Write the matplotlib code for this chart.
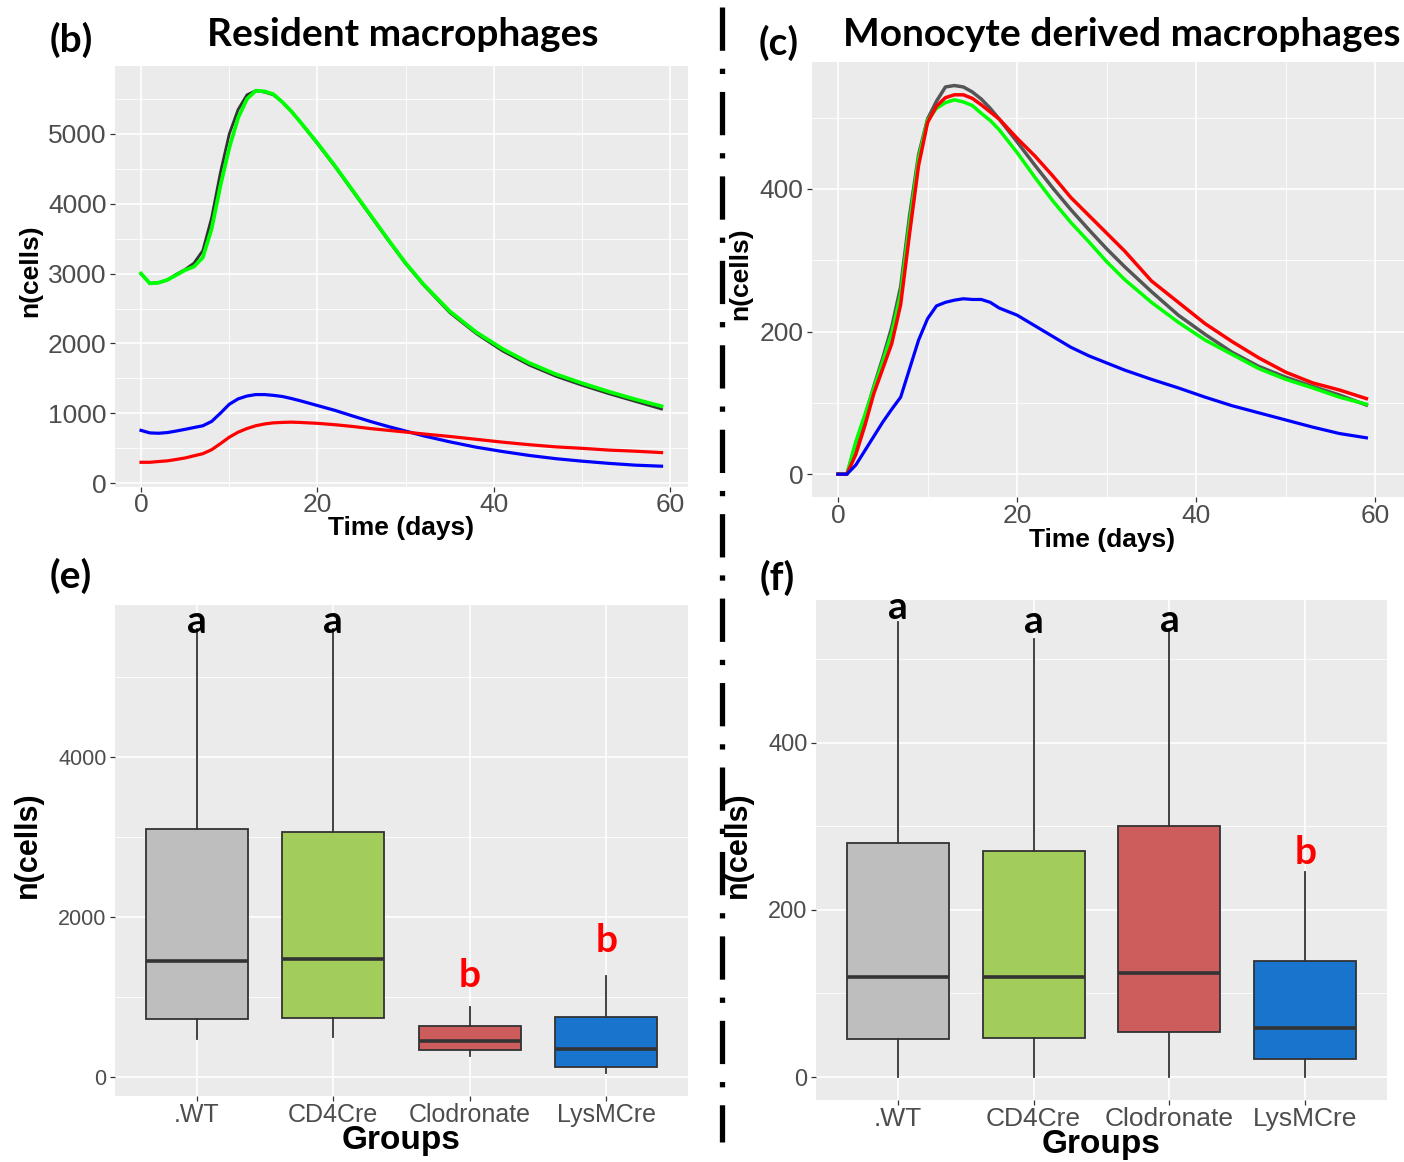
import matplotlib
matplotlib.use("Agg")
import matplotlib.pyplot as plt
from matplotlib.lines import Line2D

W, H = 1404, 1162

# ---- simulated time courses (days) ----
days = [0, 1, 2, 3, 4, 5, 6, 7, 8, 9, 10, 11, 12, 13, 14, 15, 16, 17, 18,
        20, 22, 24, 26, 28, 30, 32, 35, 38, 41, 44, 47, 50, 53, 56, 59]

# (b) resident macrophages
res_wt = [3000, 2860, 2870, 2910, 2990, 3060, 3150, 3330, 3800, 4450, 5000, 5350,
          5560, 5620, 5600, 5560, 5460, 5330, 5180, 4860, 4530, 4180, 3830, 3480,
          3140, 2840, 2440, 2140, 1890, 1690, 1530, 1400, 1280, 1170, 1060]
res_cd4 = [3000, 2860, 2870, 2910, 2980, 3050, 3100, 3230, 3640, 4260, 4800, 5230,
           5500, 5620, 5610, 5570, 5460, 5330, 5180, 4870, 4540, 4190, 3840, 3490,
           3150, 2850, 2460, 2160, 1920, 1720, 1560, 1430, 1310, 1200, 1100]
res_clod = [297, 297, 308, 318, 338, 359, 390, 420, 477, 564, 656, 728, 780, 820,
            846, 862, 868, 872, 868, 855, 835, 810, 780, 755, 730, 703, 667, 626,
            585, 549, 518, 497, 472, 456, 436]
res_lys = [754, 718, 713, 723, 745, 769, 795, 820, 882, 1000, 1128, 1205, 1246,
           1267, 1267, 1256, 1240, 1212, 1180, 1110, 1040, 960, 882, 810, 744,
           677, 590, 513, 451, 395, 349, 313, 282, 256, 241]

# (c) monocyte derived macrophages
mo_wt = [0, 0, 43, 81, 123, 163, 206, 263, 363, 448, 498, 523, 543, 545, 543, 536,
         526, 513, 498, 466, 433, 401, 371, 343, 316, 291, 256, 223, 196, 171, 151,
         136, 123, 111, 97]
mo_cd4 = [0, 0, 46, 83, 121, 158, 198, 253, 353, 443, 496, 513, 521, 525, 522, 517,
          506, 496, 483, 451, 416, 383, 353, 326, 298, 273, 241, 213, 188, 168, 148,
          133, 121, 108, 98]
mo_clod = [0, 0, 28, 68, 113, 148, 183, 238, 338, 433, 493, 516, 528, 532, 532, 527,
           518, 508, 498, 471, 446, 418, 388, 363, 338, 313, 271, 241, 211, 186, 163,
           143, 128, 118, 106]
mo_lys = [0, 0, 13, 33, 53, 73, 91, 108, 148, 188, 218, 236, 241, 244, 246, 245,
          245, 241, 233, 223, 208, 193, 178, 166, 156, 146, 133, 121, 108, 96, 86,
          76, 66, 57, 51]

# ---- box plot summaries ----
groups = [".WT", "CD4Cre", "Clodronate", "LysMCre"]
box_colors = ["#BEBEBE", "#A2CD5A", "#CD5C5C", "#1874CD"]

# (e) resident: low whisker, q1, median, q3, high whisker
e_lo = [480, 504, 264, 48]
e_q1 = [720, 744, 336, 130]
e_med = [1450, 1479, 446, 350]
e_q3 = [3097, 3063, 638, 754]
e_hi = [5600, 5600, 874, 1263]
e_letters = ["a", "a", "b", "b"]
e_letter_y = [5690, 5690, 1275, 1712]

# (f) monocyte derived
f_lo = [0, 0, 0, 0]
f_q1 = [46, 47, 54, 22]
f_med = [120, 120, 124, 59]
f_q3 = [280, 271, 300, 139]
f_hi = [545, 524, 536, 246]
f_letters = ["a", "a", "a", "b"]
f_letter_y = [562, 545, 547, 269]

letter_colors = {"a": "black", "b": "#FF0000"}

TICK_FONT = "Liberation Sans"
TITLE_FONT = "Lato"


def px_ax(fig, left, top, right, bottom):
    return fig.add_axes([left / W, 1 - bottom / H, (right - left) / W, (bottom - top) / H])


def style(ax, xt, xminor, yt, yminor, xsize, ysize, xpad=2.5):
    ax.set_facecolor("#EBEBEB")
    for s in ax.spines.values():
        s.set_visible(False)
    ax.set_xticks(xt)
    ax.set_yticks(yt)
    ax.set_xticks(xminor, minor=True)
    ax.set_yticks(yminor, minor=True)
    ax.grid(True, which="major", color="white", lw=1.2)
    ax.grid(True, which="minor", color="white", lw=0.6)
    ax.set_axisbelow(True)
    ax.tick_params(which="major", length=3.6, width=0.9, color="#333333",
                   labelcolor="#4D4D4D", pad=2.5)
    ax.tick_params(which="minor", length=0)
    ax.tick_params(axis="x", labelsize=xsize, pad=xpad)
    ax.tick_params(axis="y", labelsize=ysize)
    for lab in ax.get_xticklabels() + ax.get_yticklabels():
        lab.set_family(TICK_FONT)


def ftext(fig, x, y, s, **kw):
    fig.text(x / W, 1 - y / H, s, **kw)


fig = plt.figure(figsize=(W / 100, H / 100), dpi=100)

# ---- (b) ----
ax = px_ax(fig, 115, 66, 688, 487)
ax.plot(days, res_wt, color="#333333", lw=2.0)
ax.plot(days, res_cd4, color="#00FF00", lw=2.7)
ax.plot(days, res_lys, color="#0000FF", lw=2.3)
ax.plot(days, res_clod, color="#FF0000", lw=2.3)
ax.set_xlim(-2.95, 62.0)
ax.set_ylim(-57, 5974)
style(ax, [0, 20, 40, 60], [10, 30, 50], [0, 1000, 2000, 3000, 4000, 5000],
      [500, 1500, 2500, 3500, 4500, 5500], 19, 19, xpad=0.5)

# ---- (c) ----
ax = px_ax(fig, 812, 62, 1404, 497)
ax.plot(days, mo_wt, color="#555555", lw=2.5)
ax.plot(days, mo_cd4, color="#00FF00", lw=2.5)
ax.plot(days, mo_clod, color="#FF0000", lw=2.5)
ax.plot(days, mo_lys, color="#0000FF", lw=2.3)
ax.set_xlim(-2.9, 63.2)
ax.set_ylim(-32, 578)
style(ax, [0, 20, 40, 60], [10, 30, 50], [0, 200, 400], [100, 300, 500], 19, 19,
      xpad=1.5)


def boxes(ax, lo, q1, med, q3, hi):
    stats = []
    for i in range(len(groups)):
        stats.append(dict(whislo=lo[i], q1=q1[i], med=med[i], q3=q3[i],
                          whishi=hi[i], fliers=[], label=groups[i]))
    bp = ax.bxp(stats, positions=[1, 2, 3, 4], widths=0.75, patch_artist=True,
                showcaps=False, showfliers=False,
                boxprops=dict(edgecolor="#333333", lw=1.3),
                whiskerprops=dict(color="#333333", lw=1.3),
                medianprops=dict(color="#333333", lw=2.6))
    for patch, c in zip(bp["boxes"], box_colors):
        patch.set_facecolor(c)


# ---- (e) ----
ax = px_ax(fig, 115, 605, 688, 1096)
boxes(ax, e_lo, e_q1, e_med, e_q3, e_hi)
for i, (l, y) in enumerate(zip(e_letters, e_letter_y)):
    ax.text(i + 1, y, l, ha="center", va="center", fontsize=28, fontweight="bold",
            family=TITLE_FONT, color=letter_colors[l])
ax.set_xlim(0.4, 4.6)
ax.set_ylim(-237, 5900)
style(ax, [1, 2, 3, 4], [], [0, 2000, 4000], [1000, 3000, 5000], 18, 15.5, xpad=1.5)
ax.set_xticklabels(groups, family=TICK_FONT)

# ---- (f) ----
ax = px_ax(fig, 816, 600, 1387, 1100)
boxes(ax, f_lo, f_q1, f_med, f_q3, f_hi)
for i, (l, y) in enumerate(zip(f_letters, f_letter_y)):
    ax.text(i + 1, y, l, ha="center", va="center", fontsize=28, fontweight="bold",
            family=TITLE_FONT, color=letter_colors[l])
ax.set_xlim(0.4, 4.6)
ax.set_ylim(-27.5, 571)
style(ax, [1, 2, 3, 4], [], [0, 200, 400], [100, 300, 500], 19, 17, xpad=1.5)
ax.set_xticklabels(groups, family=TICK_FONT)

# ---- titles and labels ----
bold_title = dict(fontsize=28, fontweight="bold", family=TITLE_FONT, va="center")
ftext(fig, 71, 40, "(b)", ha="center", **bold_title)
ftext(fig, 403, 35, "Resident macrophages", ha="center", **bold_title)
ftext(fig, 779, 43, "(c)", ha="center", **bold_title)
ftext(fig, 843, 35, "Monocyte derived macrophages", ha="left", **bold_title)
ftext(fig, 71, 576, "(e)", ha="center", **bold_title)
ftext(fig, 777, 578, "(f)", ha="center", **bold_title)

lab = dict(fontweight="bold", family=TICK_FONT, ha="center", va="center")
ftext(fig, 401, 528, "Time (days)", fontsize=19, **lab)
ftext(fig, 1102, 540, "Time (days)", fontsize=19, **lab)
ftext(fig, 401, 1141, "Groups", fontsize=24, **lab)
ftext(fig, 1101, 1145, "Groups", fontsize=24, **lab)
ftext(fig, 30, 271, "n(cells)", fontsize=19, rotation=90, **lab)
ftext(fig, 740, 274, "n(cells)", fontsize=19, rotation=90, **lab)
ftext(fig, 28, 845, "n(cells)", fontsize=22, rotation=90, **lab)
ftext(fig, 738, 845, "n(cells)", fontsize=22, rotation=90, **lab)

# ---- dash-dot divider ----
div = Line2D([722 / W, 722 / W], [1 - 7 / H, 1 - 1142 / H], transform=fig.transFigure,
             color="black", lw=3.8, linestyle=(0, (8.2, 3.4, 1.0, 3.4)),
             solid_capstyle="butt", dash_capstyle="butt")
fig.add_artist(div)

fig.savefig("out.png", dpi=100)
